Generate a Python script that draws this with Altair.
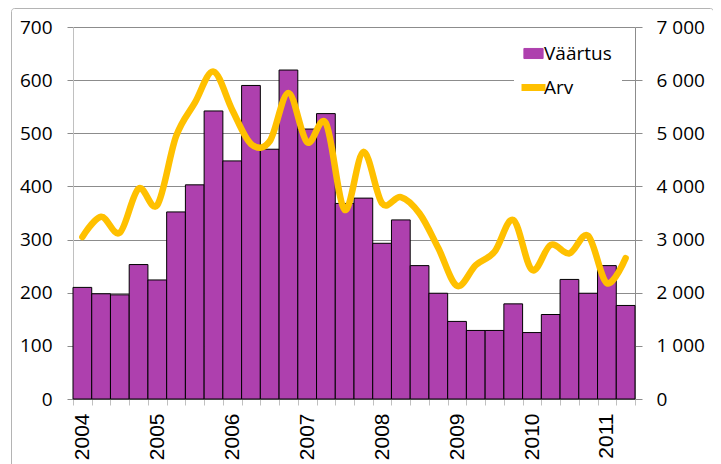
import altair as alt
import pandas as pd

# ---- data ----
years = ["2004", "2005", "2006", "2007", "2008", "2009", "2010", "2011"]
quarters = [f"{y} Q{q}" for y in years for q in (1, 2, 3, 4)][:30]
vaartus = [210, 198, 196, 253, 224, 352, 403, 542, 448, 590, 470, 619, 508, 537, 368,
           378, 293, 337, 251, 199, 146, 129, 129, 179, 125, 159, 225, 199, 251, 176]
arv = [3050, 3430, 3130, 3960, 3650, 4940, 5570, 6160, 5440, 4800, 4850, 5760, 4830, 5190, 3560,
       4650, 3680, 3800, 3490, 2840, 2130, 2520, 2770, 3370, 2430, 2900, 2740, 3070, 2180, 2650]
series_names = ["Väärtus", "Arv"]

PURPLE = "#AE40AE"
GOLD = "#FFC000"
GRID = "#8c8c8c"
LIGHT = "#c0c0c0"
FONT = "Open Sans"

df = pd.DataFrame({
    "i": list(range(len(quarters))),
    "quarter": quarters,
    "vaartus": vaartus,
    "arv": arv,
    "s_bar": series_names[0],
    "s_line": series_names[1],
})

n = len(quarters)
year_start = {quarters.index(f"{y} Q1"): y for y in years if f"{y} Q1" in quarters}
expr = "''"
for idx in sorted(year_start, reverse=True):
    expr = f"datum.value == {idx} ? '{year_start[idx]}' : ({expr})"

color_scale = alt.Scale(domain=series_names, range=[PURPLE, GOLD])
is_line = f"datum.value == '{series_names[1]}'"

legend = alt.Legend(
    orient="none", legendX=441, legendY=7, title=None,
    fillColor="white", padding=10,
    symbolSize=576,
    symbolType=alt.ExprRef(expr=f"{is_line} ? 'stroke' : 'M-0.8,-0.42H0.8V0.42H-0.8Z'"),
    symbolFillColor=alt.ExprRef(expr=f"{is_line} ? 'transparent' : '{PURPLE}'"),
    symbolStrokeColor=alt.ExprRef(expr=f"{is_line} ? '{GOLD}' : 'black'"),
    symbolStrokeWidth=alt.ExprRef(expr=f"{is_line} ? 7 : 1"),
    symbolOpacity=1,
    labelFont=FONT, labelFontSize=19, labelColor="black", labelOffset=1,
    rowPadding=9,
)

x_scale = alt.Scale(domain=[0, n], nice=False, zero=False)
x_axis = alt.Axis(
    values=list(range(n + 1)), labelExpr=expr, title=None,
    labelAngle=270, labelFont="Liberation Sans", labelFontSize=21, labelColor="black",
    labelOffset=9.4, labelPadding=8, labelOverlap=False, labelFlush=False, labelBound=False,
    tickSize=6, tickColor=LIGHT, domainColor=GRID, grid=False,
)

# decorative chart-area frame (as in the original spreadsheet chart)
frame = alt.Chart(pd.DataFrame({"f": [0]})).mark_rect(
    fill=None, stroke="#b4b4b4", strokeWidth=1, cornerRadius=3
).encode(
    x=alt.value(-61.5), x2=alt.value(640.5), y=alt.value(-18.5), y2=alt.value(460)
)

bars = alt.Chart(df).mark_bar(stroke="black", strokeWidth=1, opacity=1).transform_calculate(
    i2="datum.i + 1"
).encode(
    x=alt.X("i:Q", scale=x_scale, axis=x_axis),
    x2="i2:Q",
    y=alt.Y("vaartus:Q", scale=alt.Scale(domain=[0, 700], nice=False), axis=alt.Axis(
        values=list(range(0, 701, 100)), title=None, orient="left",
        labelFont=FONT, labelFontSize=19, labelColor="black", labelPadding=15,
        tickSize=6, tickColor=GRID, domainColor=LIGHT, grid=True, gridColor=GRID,
    )),
    y2=alt.datum(0),
    color=alt.Color("s_bar:N", scale=color_scale, legend=legend),
)

line = alt.Chart(df).mark_line(strokeWidth=6.5, interpolate="cardinal", strokeCap="round",
                               strokeJoin="round").transform_calculate(
    mid="datum.i + 0.5"
).encode(
    x=alt.X("mid:Q", scale=x_scale, axis=x_axis),
    y=alt.Y("arv:Q", scale=alt.Scale(domain=[0, 7000], nice=False), axis=alt.Axis(
        values=list(range(0, 7001, 1000)), title=None, orient="right",
        labelExpr="replace(format(datum.value, ','), ',', ' ')",
        labelFont=FONT, labelFontSize=19, labelColor="black", labelPadding=14,
        tickSize=7, tickColor=GRID, domainColor=GRID, grid=False,
    )),
    color=alt.Color("s_line:N", scale=color_scale, legend=legend),
)

chart = alt.layer(frame, bars, line).resolve_scale(y="independent").properties(
    width=562, height=372,
    autosize=alt.AutoSizeParams(type="none"),
    padding={"left": 65, "top": 19, "right": 78, "bottom": 65},
    background="white",
).configure_view(stroke=None)

chart.save("out.html", embed_options={"renderer": "svg", "actions": False})
